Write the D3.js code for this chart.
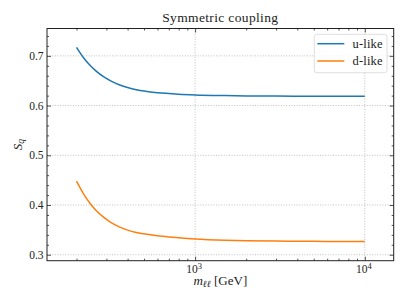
<!DOCTYPE html>
<html>
<head>
<meta charset="utf-8">
<script src="https://cdn.jsdelivr.net/npm/d3@7"></script>
<style>
  body { margin: 0; background: #fff; }
  text { font-family: "Liberation Serif", "DejaVu Serif", serif; fill: #222; }
</style>
</head>
<body>
<div id="chart"></div>
<script>
// values
const mass = [200, 220, 240, 260, 290, 320, 360, 400, 450, 520, 600, 700, 800, 1000, 1500, 2000, 3000, 5000, 10000];
const uLike = [0.717, 0.6962, 0.6811, 0.6699, 0.6577, 0.6493, 0.6415, 0.6363, 0.6319, 0.6285, 0.626, 0.6243, 0.623, 0.6215, 0.62, 0.6193, 0.619, 0.6188, 0.6187];
const dLike = [0.448, 0.4225, 0.4035, 0.3895, 0.375, 0.3645, 0.3555, 0.3495, 0.3448, 0.341, 0.338, 0.3357, 0.3341, 0.3318, 0.3293, 0.3283, 0.3275, 0.3269, 0.3266];
const seriesNames = ["u-like", "d-like"];
const yMajor = [0.3, 0.4, 0.5, 0.6, 0.7];
const xMajor = [1000, 10000];

const width = 407, height = 305;
const margin = {top: 28.5, right: 13.3, bottom: 44.3, left: 47};
const colors = ["#1f77b4", "#ff7f0e"];

const svg = d3.select("#chart").append("svg")
    .attr("width", width)
    .attr("height", height);

const x = d3.scaleLog()
    .domain([134, 14800])
    .range([margin.left, width - margin.right]);

const y = d3.scaleLinear()
    .domain([0.288, 0.755])
    .range([height - margin.bottom, margin.top]);

const xMinor = x.ticks().filter(t => xMajor.indexOf(t) < 0);
const yMinor = d3.range(0.28, 0.76, 0.02).map(v => +v.toFixed(2))
    .filter(v => y.domain()[0] <= v && v <= y.domain()[1])
    .filter(v => yMajor.every(m => Math.abs(m - v) > 1e-6));

const bottom = height - margin.bottom, right = width - margin.right;

// dotted grid at the major ticks
const grid = svg.append("g").attr("stroke", "#b0b0b0").attr("stroke-width", 0.8)
    .attr("stroke-dasharray", "1,1.6");
grid.selectAll(".gx").data(xMajor).enter().append("line")
    .attr("x1", d => x(d)).attr("x2", d => x(d))
    .attr("y1", margin.top).attr("y2", bottom);
grid.selectAll(".gy").data(yMajor).enter().append("line")
    .attr("x1", margin.left).attr("x2", right)
    .attr("y1", d => y(d)).attr("y2", d => y(d));

// curves
const line = d3.line()
    .x(d => x(d[0]))
    .y(d => y(d[1]))
    .curve(d3.curveMonotoneX);

[uLike, dLike].forEach((vals, i) => {
    svg.append("path")
        .datum(mass.map((m, j) => [m, vals[j]]))
        .attr("fill", "none")
        .attr("stroke", colors[i])
        .attr("stroke-width", 1.5)
        .attr("d", line);
});

// axes, ticks pointing inward
function styleAxis(g) {
    g.select(".domain").remove();
    g.selectAll(".tick line").attr("stroke", "#222").attr("stroke-width", 0.8);
    g.selectAll(".tick text").attr("font-size", 11.5).attr("fill", "#222");
}

svg.append("g").attr("transform", `translate(0,${bottom})`)
    .call(d3.axisBottom(x).tickValues(xMajor).tickSize(-4).tickFormat(""))
    .call(styleAxis);
svg.append("g").attr("transform", `translate(0,${bottom})`)
    .call(d3.axisBottom(x).tickValues(xMinor).tickSize(-2).tickFormat(""))
    .call(styleAxis);
svg.append("g").attr("transform", `translate(0,${margin.top})`)
    .call(d3.axisTop(x).tickValues(xMajor).tickSize(-4).tickFormat(""))
    .call(styleAxis);
svg.append("g").attr("transform", `translate(0,${margin.top})`)
    .call(d3.axisTop(x).tickValues(xMinor).tickSize(-2).tickFormat(""))
    .call(styleAxis);

svg.append("g").attr("transform", `translate(${margin.left},0)`)
    .call(d3.axisLeft(y).tickValues(yMajor).tickSize(-4).tickPadding(3.5).tickFormat(d3.format(".1f")))
    .call(styleAxis);
svg.append("g").attr("transform", `translate(${margin.left},0)`)
    .call(d3.axisLeft(y).tickValues(yMinor).tickSize(-2).tickFormat(""))
    .call(styleAxis);
svg.append("g").attr("transform", `translate(${right},0)`)
    .call(d3.axisRight(y).tickValues(yMajor).tickSize(-4).tickFormat(""))
    .call(styleAxis);
svg.append("g").attr("transform", `translate(${right},0)`)
    .call(d3.axisRight(y).tickValues(yMinor).tickSize(-2).tickFormat(""))
    .call(styleAxis);

// x tick labels as powers of ten
const xl = svg.append("g");
xMajor.forEach(v => {
    const t = xl.append("text")
        .attr("x", x(v) - 1)
        .attr("y", bottom + 12.5)
        .attr("text-anchor", "middle")
        .attr("font-size", 11.5);
    t.append("tspan").text("10");
    t.append("tspan").attr("dy", -4.5).attr("font-size", 8.5).text(Math.round(Math.log10(v)));
});

// frame
svg.append("rect")
    .attr("x", margin.left).attr("y", margin.top)
    .attr("width", right - margin.left).attr("height", bottom - margin.top)
    .attr("fill", "none").attr("stroke", "#222").attr("stroke-width", 1);

// title and labels
svg.append("text")
    .attr("x", (margin.left + right) / 2).attr("y", 22.3)
    .attr("text-anchor", "middle").attr("font-size", 13.5)
    .attr("letter-spacing", 0.35)
    .text("Symmetric coupling");

const xt = svg.append("text")
    .attr("x", (margin.left + right) / 2).attr("y", 284.7)
    .attr("text-anchor", "middle").attr("font-size", 13);
xt.append("tspan").attr("font-style", "italic").text("m");
xt.append("tspan").attr("font-style", "italic").attr("font-size", 9.5).attr("dy", 2.5).text("ℓℓ");
xt.append("tspan").attr("dy", -2.5).text(" [GeV]");

const yt = svg.append("text")
    .attr("transform", `translate(21.5,${(margin.top + bottom) / 2}) rotate(-90)`)
    .attr("text-anchor", "middle").attr("font-size", 13);
yt.append("tspan").attr("font-style", "italic").text("S");
yt.append("tspan").attr("font-style", "italic").attr("font-size", 9.5).attr("dy", 2.5).text("q");

// legend
const lg = svg.append("g").attr("transform", "translate(314.3,34.3)");
lg.append("rect")
    .attr("width", 72.7).attr("height", 38.4).attr("rx", 2.5)
    .attr("fill", "#fff").attr("fill-opacity", 0.8)
    .attr("stroke", "#d6d6d6").attr("stroke-width", 0.8);
seriesNames.forEach((name, i) => {
    const yy = 9.4 + i * 17.3;
    lg.append("line")
        .attr("x1", 3).attr("x2", 30)
        .attr("y1", yy).attr("y2", yy)
        .attr("stroke", colors[i]).attr("stroke-width", 1.5);
    lg.append("text")
        .attr("x", 68.5).attr("y", yy + 4)
        .attr("text-anchor", "end").attr("font-size", 12.5)
        .attr("letter-spacing", 0.2)
        .text(name);
});
</script>
</body>
</html>
